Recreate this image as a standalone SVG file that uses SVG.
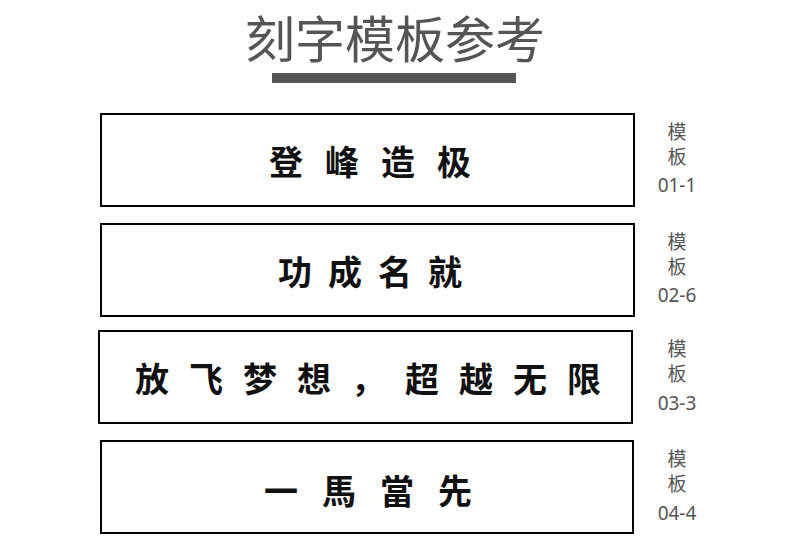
<svg xmlns="http://www.w3.org/2000/svg" width="790" height="555" viewBox="0 0 790 555">
<style>
.box{fill:#fff;stroke:#000;stroke-width:2}
.t{font-family:"Noto Sans CJK SC","Noto Sans CJK JP",sans-serif;font-size:34px;font-weight:bold;fill:#111;text-anchor:middle;dominant-baseline:central}
.s{font-family:"Noto Sans","Noto Sans CJK SC",sans-serif;font-size:19px;fill:#555;text-anchor:middle}
</style>
<rect width="790" height="555" fill="#fff"/>
<g id="title">
<text x="395" y="58" style="font-family:'Noto Sans CJK SC',sans-serif;font-size:50px;fill:#555;text-anchor:middle">刻字模板参考</text>
<rect x="272" y="73" width="244" height="10" fill="#555"/>
</g>
<g id="n1"><rect class="box" x="101" y="114" width="533" height="92"/><text class="t" x="381" y="160" letter-spacing="22">登峰造极</text>
<text class="s" x="677" y="139">模</text><text class="s" x="677" y="164">板</text><text class="s" x="677" y="192">01-1</text></g>
<g id="n2"><rect class="box" x="101" y="224" width="533" height="92"/><text class="t" x="378" y="270" letter-spacing="16">功成名就</text>
<text class="s" x="677" y="249">模</text><text class="s" x="677" y="274">板</text><text class="s" x="677" y="302">02-6</text></g>
<g id="n3"><rect class="box" x="99" y="331" width="533" height="92"/><text class="t" x="378" y="377" letter-spacing="20">放飞梦想，超越无限</text>
<text class="s" x="677" y="356">模</text><text class="s" x="677" y="381">板</text><text class="s" x="677" y="410">03-3</text></g>
<g id="n4"><rect class="box" x="101" y="441" width="532" height="92"/><text class="t" x="380" y="489" letter-spacing="24">一馬當先</text>
<text class="s" x="677" y="466">模</text><text class="s" x="677" y="491">板</text><text class="s" x="677" y="520">04-4</text></g>
<g id="connectors"/>
</svg>
